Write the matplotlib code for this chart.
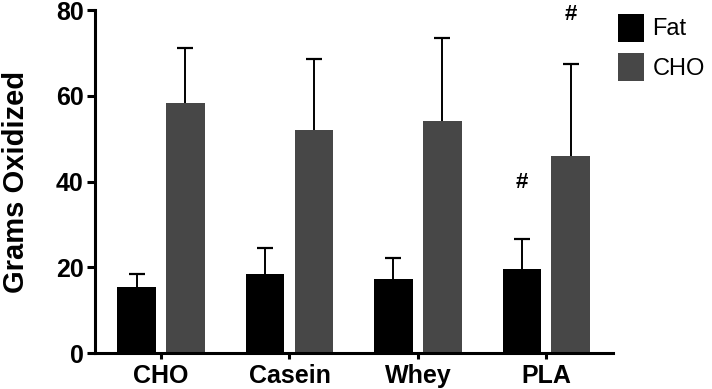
import matplotlib.pyplot as plt
import numpy as np

plt.rcParams['font.family'] = ['Liberation Sans', 'DejaVu Sans']

groups = ['CHO', 'Casein', 'Whey', 'PLA']
fat_mean = [15.3, 18.5, 17.3, 19.5]
fat_err = [3.1, 6.0, 4.8, 7.0]
cho_mean = [58.4, 52.0, 54.2, 46.0]
cho_err = [12.7, 16.6, 19.2, 21.4]
sig_fat = ['', '', '', '#']
sig_cho = ['', '', '', '#']

x = np.arange(len(groups))
w = 0.30
off = 0.19

fig = plt.figure(figsize=(7.12, 3.89), dpi=100)
ax = fig.add_axes([0.1334, 0.0925, 0.7276, 0.8815])

ax.bar(x - off, fat_mean, w, color='black', label='Fat', zorder=2)
ax.bar(x + off, cho_mean, w, color='#474747', label='CHO', zorder=2)
for pos, mean, err in [(x - off, fat_mean, fat_err), (x + off, cho_mean, cho_err)]:
    eb = ax.errorbar(pos, mean, yerr=[np.zeros(len(mean)), err], fmt='none',
                     ecolor='black', elinewidth=1.4, capsize=5.8, capthick=1.6, zorder=1)
    eb[1][0].set_visible(False)

for i in range(len(groups)):
    if sig_fat[i]:
        ax.text(x[i] - off, fat_mean[i] + fat_err[i] + 13.3, sig_fat[i],
                ha='center', va='center', fontsize=16, fontweight='bold')
    if sig_cho[i]:
        ax.text(x[i] + off, cho_mean[i] + cho_err[i] + 11.5, sig_cho[i],
                ha='center', va='center', fontsize=16, fontweight='bold')

ax.set_xlim(-0.515, 3.52)
ax.set_ylim(0, 80)
ax.set_yticks([0, 20, 40, 60, 80])
ax.set_xticks(x)
ax.set_xticklabels(groups)
ax.set_ylabel('Grams Oxidized', fontsize=21, fontweight='bold', labelpad=19)

for s in ['top', 'right']:
    ax.spines[s].set_visible(False)
for s in ['left', 'bottom']:
    ax.spines[s].set_linewidth(2.2)
ax.tick_params(axis='y', width=2.2, length=6, labelsize=18, pad=2)
ax.tick_params(axis='x', width=2.2, length=4, labelsize=18, pad=4)
for lab in ax.get_xticklabels() + ax.get_yticklabels():
    lab.set_fontweight('bold')

handles, labels = ax.get_legend_handles_labels()
fig.legend(handles, labels, loc='upper left', bbox_to_anchor=(0.868, 0.965),
           frameon=False, fontsize=17, handlelength=1.1, handleheight=1.45,
           handletextpad=0.35, labelspacing=0.5, borderpad=0, borderaxespad=0)

fig.savefig('out.png', dpi=100)
